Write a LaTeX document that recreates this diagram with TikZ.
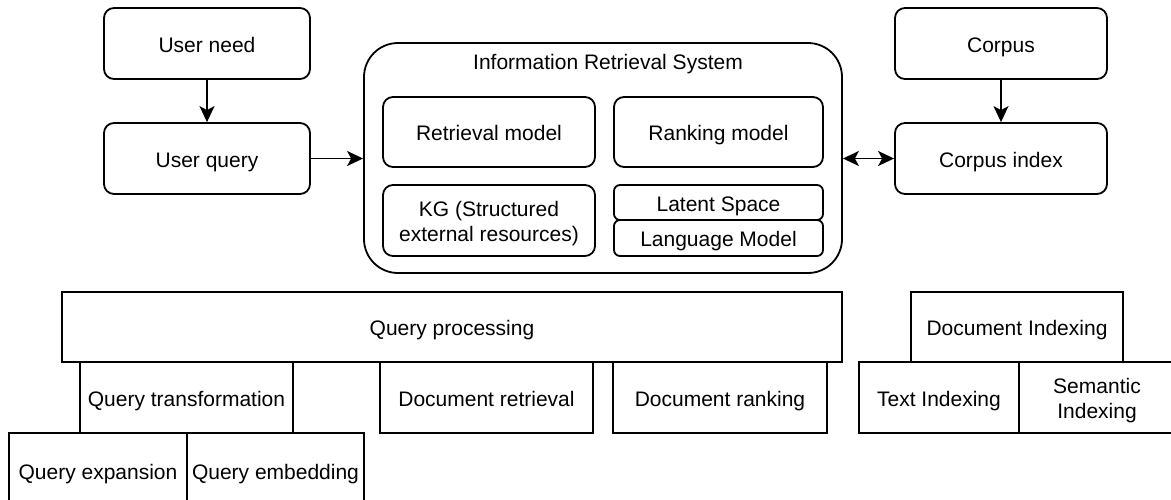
\documentclass[tikz,border=0pt]{standalone}
\usepackage{fontspec}
\setmainfont{Liberation Sans}
\usetikzlibrary{arrows.meta,calc}

\tikzset{
  base/.style={draw=black, line width=1.8pt, inner sep=0pt, align=center,
    font=\fontsize{21}{25}\selectfont},
  one/.style={text height=19.5pt, text depth=2pt},
  rbox/.style={base, rounded corners=10pt},
  sbox/.style={base, rounded corners=6pt},
  pbox/.style={base},
  tip/.style={Stealth[length=16pt, width=15pt, inset=4pt]},
  arr/.style={draw=black, line width=1.8pt, -{Stealth[length=16pt, width=15pt, inset=4pt]}},
  darr/.style={draw=black, line width=1.8pt, {Stealth[length=16pt, width=15pt, inset=4pt]}-{Stealth[length=16pt, width=15pt, inset=4pt]}},
}
% strut that lowers two-line labels to the box centre
\newcommand{\twoup}{\rule{0pt}{21pt}}

\begin{document}
\begin{tikzpicture}[x=1pt, y=-1pt]
  \clip (0,0) rectangle (1171,499);

  % user side
  \node[rbox, one, minimum width=206pt, minimum height=71pt] (need)  at (207,43.5)  {User need};
  \node[rbox, one, minimum width=206pt, minimum height=71pt] (query) at (207,158.5) {User query};

  % information retrieval system
  \node[base, rounded corners=34pt, minimum width=478pt, minimum height=230pt] (irs) at (603,158) {};
  \node[font=\fontsize{21}{25}\selectfont, inner sep=0pt, anchor=base] (irstitle) at (608,69.3) {Information Retrieval System};
  \node[rbox, one, minimum width=212pt, minimum height=70pt] (retr) at (489,132)   {Retrieval model};
  \node[rbox, one, minimum width=209pt, minimum height=70pt] (rank) at (718.5,132) {Ranking model};
  \node[rbox, minimum width=212pt, minimum height=71pt] (kg)   at (489,220.5) {\twoup KG (Structured\\external resources)};
  \node[sbox, one, minimum width=209pt, minimum height=35pt] (latent) at (718.5,202.5) {Latent Space};
  \node[sbox, one, minimum width=209pt, minimum height=36pt] (lm)     at (718.5,238)   {Language Model};

  % corpus side
  \node[rbox, one, minimum width=212pt, minimum height=71pt] (corpus) at (1001,43.5)  {Corpus};
  \node[rbox, one, minimum width=212pt, minimum height=71pt] (cindex) at (1001,158.5) {Corpus index};

  % connectors
  \draw[arr]  (need) -- (query);
  \draw[arr]  (query.east) -- (query.east -| irs.west);
  \draw[darr] (cindex.west -| irs.east) -- (cindex.west);
  \draw[arr]  (corpus) -- (cindex);

  % query processing hierarchy
  \node[pbox, one, minimum width=780pt, minimum height=70pt] (qp)   at (452,327)   {Query processing};
  \node[pbox, one, minimum width=213pt, minimum height=71pt] (qt)   at (186.5,397.5) {Query transformation};
  \node[pbox, one, minimum width=178pt, minimum height=76pt] (qexp) at (98,471)    {Query expansion};
  \node[pbox, one, minimum width=177pt, minimum height=76pt] (qemb) at (275.5,471) {Query embedding};
  \node[pbox, one, minimum width=213pt, minimum height=71pt] (dret) at (486.5,397.5) {Document retrieval};
  \node[pbox, one, minimum width=214pt, minimum height=71pt] (drank) at (720,397.5) {Document ranking};

  % document indexing hierarchy
  \node[pbox, one, minimum width=212pt, minimum height=70pt] (didx) at (1017,327)   {Document Indexing};
  \node[pbox, one, minimum width=160pt, minimum height=71pt] (tidx) at (939,397.5)  {Text Indexing};
  \node[pbox, minimum width=156pt, minimum height=71pt] (sidx) at (1097,397.5) {\twoup Semantic\\Indexing};
\end{tikzpicture}
\end{document}
